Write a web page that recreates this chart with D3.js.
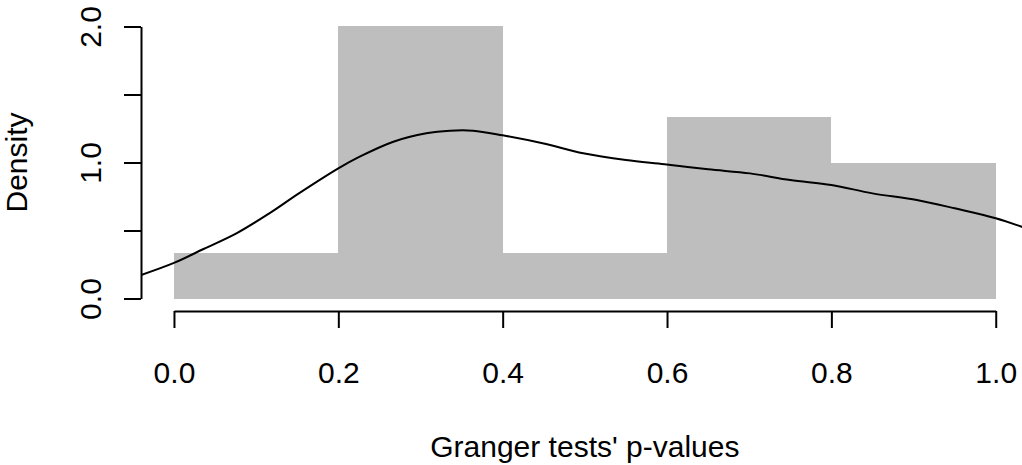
<!DOCTYPE html>
<html>
<head>
<meta charset="utf-8">
<script src="https://cdn.jsdelivr.net/npm/d3@7"></script>
<style>
  body { margin: 0; background: #fff; }
  text { font-family: "Liberation Sans", Arial, sans-serif; }
</style>
</head>
<body>
<script>
const W = 1022;
const H = 465;
const FONT = 30;
const BAR_COLOR = '#bebebe';

// histogram bins (density scale)
const binStart = [0.0, 0.2, 0.4, 0.6, 0.8];
const binEnd = [0.2, 0.4, 0.6, 0.8, 1.0];
const binDensity = [0.333, 2.0, 0.333, 1.333, 1.0];

// kernel density curve
const densX = [-0.04, 0.0, 0.036, 0.076, 0.116, 0.152, 0.2, 0.226, 0.267, 0.307, 0.336, 0.364, 0.4, 0.45, 0.498, 0.55, 0.597, 0.65, 0.701, 0.75, 0.8, 0.85, 0.904, 0.95, 1.0, 1.04];
const densY = [0.173, 0.262, 0.364, 0.479, 0.626, 0.773, 0.957, 1.043, 1.153, 1.215, 1.234, 1.234, 1.2, 1.14, 1.068, 1.018, 0.987, 0.95, 0.92, 0.871, 0.835, 0.773, 0.724, 0.663, 0.59, 0.51];

const xTicks = [0, 0.2, 0.4, 0.6, 0.8, 1.0];
const yTicks = [0, 0.5, 1.0, 1.5, 2.0];
const yLabeled = [0, 1.0, 2.0];

const svg = d3.select('body').append('svg')
    .attr('width', W)
    .attr('height', H);

// plot region (R usr extends 4% past the data range)
const x = d3.scaleLinear().domain([-0.04, 1.04]).range([141.1, 1028.6]);
const y = d3.scaleLinear().domain([-0.08, 2.08]).range([309.4, 15.6]);

svg.append('defs').append('clipPath').attr('id', 'plot')
  .append('rect')
    .attr('x', x(-0.04)).attr('y', y(2.08))
    .attr('width', x(1.04) - x(-0.04))
    .attr('height', y(-0.08) - y(2.08));

// bars
svg.append('g').selectAll('rect')
  .data(binDensity)
  .join('rect')
    .attr('x', (d, i) => x(binStart[i]))
    .attr('y', d => y(d))
    .attr('width', (d, i) => x(binEnd[i]) - x(binStart[i]))
    .attr('height', d => y(0) - y(d))
    .attr('fill', BAR_COLOR)
    .attr('shape-rendering', 'crispEdges');

// density line
const line = d3.line()
  .x((d, i) => x(densX[i]))
  .y(d => y(d))
  .curve(d3.curveCatmullRom.alpha(0.5));

svg.append('path')
  .attr('clip-path', 'url(#plot)')
  .attr('d', line(densY))
  .attr('fill', 'none')
  .attr('stroke', '#000')
  .attr('stroke-width', 2);

// x axis
const xAxisScale = d3.scaleLinear().domain([0, 1]).range([x(0), x(1)]);
const gx = svg.append('g')
    .attr('transform', `translate(0,311)`)
    .call(d3.axisBottom(xAxisScale)
      .tickValues(xTicks)
      .tickSize(17)
      .tickSizeOuter(0)
      .tickFormat(d3.format('.1f')));

// y axis
const yAxisScale = d3.scaleLinear().domain([0, 2]).range([y(0), y(2)]);
const gy = svg.append('g')
    .attr('transform', `translate(141,0)`)
    .call(d3.axisLeft(yAxisScale)
      .tickValues(yTicks)
      .tickSize(17)
      .tickSizeOuter(0)
      .tickFormat(d => yLabeled.includes(d) ? d3.format('.1f')(d) : ''));

[gx, gy].forEach(g => {
  g.select('.domain').attr('stroke', '#000').attr('stroke-width', 2);
  g.selectAll('.tick line').attr('stroke', '#000').attr('stroke-width', 2);
  g.selectAll('text')
    .attr('fill', '#000')
    .style('font-size', FONT + 'px')
    .style('font-family', '"Liberation Sans", Arial, sans-serif');
});

gx.selectAll('text').attr('y', 72).attr('dy', null);
gy.selectAll('text')
  .attr('x', 0)
  .attr('dy', null)
  .attr('text-anchor', 'middle')
  .attr('transform', 'translate(-40,0) rotate(-90)');

// axis titles
svg.append('text')
  .attr('x', (x(-0.04) + x(1.04)) / 2)
  .attr('y', 457)
  .attr('text-anchor', 'middle')
  .style('font-size', FONT + 'px')
  .text("Granger tests' p-values");

svg.append('text')
  .attr('transform', `translate(27,${y(1)}) rotate(-90)`)
  .attr('text-anchor', 'middle')
  .style('font-size', FONT + 'px')
  .text('Density');
</script>
</body>
</html>
